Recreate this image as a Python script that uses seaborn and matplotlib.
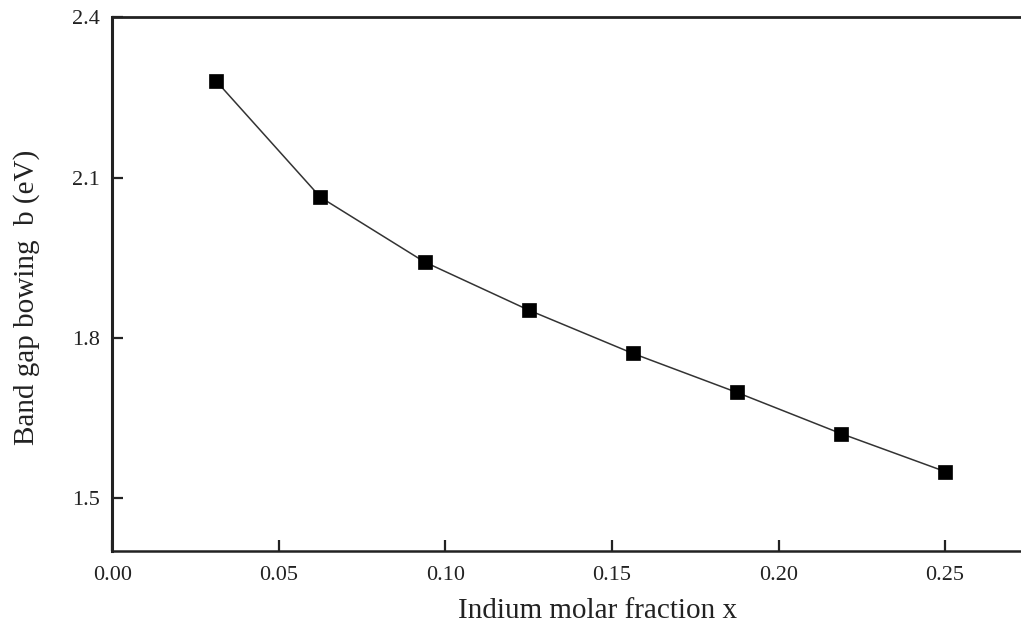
import matplotlib
matplotlib.use("Agg")
import matplotlib.pyplot as plt
import seaborn as sns
import pandas as pd

# Indium molar fraction and band gap bowing parameter
indium_fraction = [0.03125, 0.0625, 0.09375, 0.125, 0.15625, 0.1875, 0.21875, 0.25]
bowing_ev = [2.280, 2.063, 1.942, 1.852, 1.771, 1.698, 1.621, 1.550]

x_ticks = [0.00, 0.05, 0.10, 0.15, 0.20, 0.25]
y_ticks = [1.5, 1.8, 2.1, 2.4]

sns.set_theme(style="ticks")
plt.rcParams["font.family"] = ["Liberation Serif", "DejaVu Serif"]

df = pd.DataFrame({"x": indium_fraction, "b": bowing_ev})

fig = plt.figure(figsize=(10.21, 6.35), dpi=100)
ax = fig.add_axes([0.110, 0.132, 0.890, 0.841])

sns.lineplot(data=df, x="x", y="b", ax=ax, color="#333333", linewidth=1.1,
             marker="s", markersize=10, markerfacecolor="black",
             markeredgecolor="black", markeredgewidth=0.5)

ax.set_xlim(0.0, 0.2728)
ax.set_ylim(1.401, 2.4)
ax.set_xticks(x_ticks)
ax.set_xticklabels([f"{v:.2f}" for v in x_ticks])
ax.set_yticks(y_ticks)
ax.set_yticklabels([f"{v:.1f}" for v in y_ticks])

ax.tick_params(axis="both", direction="in", length=8, width=1.6,
               color="#222222", labelsize=16, labelcolor="#222222")
ax.tick_params(axis="y", pad=9)
ax.tick_params(axis="x", pad=11)

for side in ["left", "bottom", "top"]:
    ax.spines[side].set_color("#222222")
ax.spines["left"].set_linewidth(2.2)
ax.spines["bottom"].set_linewidth(1.8)
ax.spines["top"].set_linewidth(2.0)
ax.spines["right"].set_visible(False)

ax.set_xlabel("Indium molar fraction x", fontsize=21, color="#222222")
ax.set_ylabel("Band gap bowing  b (eV)", fontsize=21, color="#222222")
ax.xaxis.set_label_coords(0.534, -0.088)
ax.yaxis.set_label_coords(-0.080, 0.476)

fig.savefig("out.png", dpi=100, facecolor="white")
